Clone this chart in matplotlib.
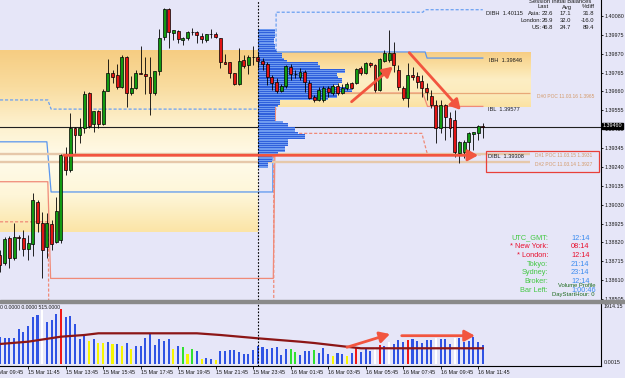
import numpy as np
import matplotlib
matplotlib.use("Agg")
import matplotlib.pyplot as plt
from matplotlib.colors import LinearSegmentedColormap
from matplotlib.patches import Rectangle

plt.rcParams['font.family'] = ['Liberation Sans', 'DejaVu Sans']

# 15 min bars, 15 Mar 10:15 -> 16 Mar 12:00
opens = [1.38750, 1.38705, 1.38845, 1.38733, 1.38850, 1.38845, 1.38783, 1.38811, 1.39045, 1.38928,
         1.38794, 1.38922, 1.38822, 1.38833, 1.39306, 1.39223, 1.39457, 1.39418, 1.39457, 1.39651,
         1.39479, 1.39551, 1.39479, 1.39663, 1.39763, 1.39752, 1.39685, 1.39852, 1.39651, 1.39679,
         1.39763, 1.39757, 1.39740, 1.39651, 1.39774, 1.39963, 1.40119, 1.39985, 1.39996, 1.39946,
         1.39958, 1.39991, 1.39991, 1.39969, 1.39946, 1.39980, 1.39980, 1.39958, 1.39824, 1.39824,
         1.39763, 1.39702, 1.39835, 1.39807, 1.39852, 1.39852, 1.39830, 1.39813, 1.39740, 1.39713,
         1.39663, 1.39690, 1.39796, 1.39757, 1.39740, 1.39768, 1.39707, 1.39629, 1.39612, 1.39612,
         1.39679, 1.39651, 1.39690, 1.39651, 1.39679, 1.39707, 1.39707, 1.39791, 1.39763, 1.39818,
         1.39807, 1.39668, 1.39830, 1.39835, 1.39874, 1.39779, 1.39679, 1.39624, 1.39752, 1.39746,
         1.39718, 1.39679, 1.39635, 1.39585, 1.39457, 1.39585, 1.39512, 1.39501, 1.39318, 1.39323,
         1.39379, 1.39423, 1.39429, 1.39468]
highs = [1.38778, 1.38850, 1.38856, 1.38928, 1.38861, 1.38889, 1.38861, 1.39095, 1.39056, 1.38989,
         1.38984, 1.38945, 1.39073, 1.39312, 1.39351, 1.39540, 1.39462, 1.39512, 1.39663, 1.39657,
         1.39551, 1.39557, 1.39674, 1.39841, 1.39779, 1.39813, 1.39863, 1.39857, 1.39746, 1.39779,
         1.39913, 1.39852, 1.39852, 1.39774, 1.40008, 1.40122, 1.40124, 1.40002, 1.40000, 1.39963,
         1.39996, 1.40013, 1.39994, 1.39985, 1.39980, 1.40008, 1.39991, 1.39960, 1.39868, 1.39826,
         1.39765, 1.39902, 1.39863, 1.39863, 1.39913, 1.39880, 1.39846, 1.39824, 1.39752, 1.39735,
         1.39702, 1.39805, 1.39813, 1.39779, 1.39791, 1.39779, 1.39724, 1.39640, 1.39685, 1.39690,
         1.39690, 1.39702, 1.39707, 1.39702, 1.39713, 1.39713, 1.39791, 1.39802, 1.39824, 1.39824,
         1.39813, 1.39846, 1.39891, 1.40002, 1.39935, 1.39807, 1.39690, 1.39818, 1.39796, 1.39768,
         1.39752, 1.39707, 1.39668, 1.39612, 1.39612, 1.39590, 1.39546, 1.39557, 1.39382, 1.39390,
         1.39432, 1.39437, 1.39472, 1.39485]
lows = [1.38655, 1.38694, 1.38678, 1.38722, 1.38778, 1.38744, 1.38722, 1.38744, 1.38878, 1.38622,
        1.38733, 1.38778, 1.38817, 1.38817, 1.39195, 1.39212, 1.39318, 1.39373, 1.39429, 1.39455,
        1.39434, 1.39457, 1.39473, 1.39660, 1.39707, 1.39674, 1.39679, 1.39574, 1.39640, 1.39674,
        1.39755, 1.39646, 1.39529, 1.39640, 1.39752, 1.39946, 1.39902, 1.39946, 1.39930, 1.39919,
        1.39946, 1.39974, 1.39930, 1.39930, 1.39935, 1.39958, 1.39958, 1.39791, 1.39811, 1.39735,
        1.39696, 1.39696, 1.39791, 1.39757, 1.39807, 1.39791, 1.39779, 1.39696, 1.39668, 1.39651,
        1.39657, 1.39679, 1.39724, 1.39735, 1.39724, 1.39657, 1.39618, 1.39601, 1.39607, 1.39601,
        1.39629, 1.39640, 1.39640, 1.39646, 1.39668, 1.39674, 1.39702, 1.39752, 1.39757, 1.39796,
        1.39657, 1.39663, 1.39824, 1.39824, 1.39768, 1.39668, 1.39612, 1.39574, 1.39724, 1.39679,
        1.39629, 1.39612, 1.39568, 1.39373, 1.39429, 1.39390, 1.39407, 1.39295, 1.39262, 1.39290,
        1.39323, 1.39334, 1.39390, 1.39401]
closes = [1.38694, 1.38839, 1.38733, 1.38850, 1.38845, 1.38783, 1.38817, 1.39056, 1.38928, 1.38778,
          1.38928, 1.38811, 1.38995, 1.39306, 1.39223, 1.39457, 1.39418, 1.39457, 1.39646, 1.39468,
          1.39551, 1.39479, 1.39663, 1.39763, 1.39740, 1.39685, 1.39852, 1.39651, 1.39679, 1.39763,
          1.39757, 1.39746, 1.39651, 1.39774, 1.39958, 1.40119, 1.39991, 1.40002, 1.39952, 1.39958,
          1.39991, 1.39989, 1.39974, 1.39952, 1.39980, 1.39978, 1.39963, 1.39824, 1.39813, 1.39763,
          1.39702, 1.39830, 1.39802, 1.39852, 1.39850, 1.39830, 1.39813, 1.39740, 1.39707, 1.39663,
          1.39690, 1.39802, 1.39757, 1.39755, 1.39768, 1.39713, 1.39624, 1.39612, 1.39668, 1.39679,
          1.39657, 1.39690, 1.39651, 1.39679, 1.39702, 1.39679, 1.39785, 1.39763, 1.39818, 1.39807,
          1.39668, 1.39841, 1.39874, 1.39874, 1.39807, 1.39685, 1.39624, 1.39752, 1.39740, 1.39713,
          1.39679, 1.39657, 1.39585, 1.39457, 1.39585, 1.39518, 1.39457, 1.39323, 1.39379, 1.39379,
          1.39429, 1.39434, 1.39468, 1.39460]

volumes = [857, 816, 816, 816, 1098, 1004, 1192, 1484, 1538, 1695,
           1327, 1381, 1569, 1726, 1484, 1506, 1255, 785, 910, 731,
           785, 659, 659, 700, 628, 628, 565, 659, 471, 565,
           565, 825, 941, 596, 785, 731, 785, 471, 565, 533,
           314, 471, 408, 157, 188, 166, 126, 417, 408, 439,
           439, 386, 314, 314, 439, 565, 543, 471, 502, 533,
           282, 471, 471, 386, 282, 417, 420, 439, 345, 502,
           314, 251, 355, 314, 251, 355, 502, 386, 471, 417,
           543, 596, 565, 700, 628, 753, 700, 753, 785, 731,
           668, 753, 753, 816, 785, 785, 628, 816, 816, 700,
           731, 847, 690, 596]
vol_colors = ("bbbbbbbbb" + "w" + "bbb" + "r" + "bbbbb" + "ybyybybyby" + "bbbbbbbb"
              + "ybgygbybby" + "b" * 15 + "gg" + "bbb" + "g" + "bbb" + "ybbyb" + "r"
              + "bbb" + "wrbw" + "bbb" + "r" + "bbbbb" + "w" + "bbb" + "w" + "bbbbbb")
ma_idx = [0, 6, 13, 18, 21, 42, 47, 55, 64, 67, 75, 77, 103]
ma_vals = [628, 700, 857, 910, 963, 963, 910, 806, 700, 659, 524, 493, 493]

# volume profile of the current day, one row per pip from 1.4000 down
profile_top = 1.4000
profile_vol = [17, 17, 17, 17, 17, 16, 16, 16, 17, 17,
               17, 18, 19, 24, 24, 24, 26, 29, 60, 60,
               62, 62, 87, 87, 79, 79, 80, 84, 84, 84,
               80, 75, 90, 94, 94, 82, 79, 79, 70, 22,
               22, 22, 20, 17, 17, 17, 17, 17, 17, 17,
               17, 25, 30, 30, 37, 37, 37, 40, 47, 47,
               47, 30, 30, 30, 30, 27, 27, 27, 20, 14,
               14, 14, 14, 14, 10, 10, 10]
day_start = 55.04

# initial balance lines (bar index, price)
blue_dash_x = [0, 10.2, 10.9, 58.9, 58.9, 90.2, 90.7, 103]
blue_dash_y = [1.39613, 1.39613, 1.39562, 1.39562, 1.40101, 1.40101, 1.40115, 1.40115]
blue_x = [0, 10.0, 10.9, 58.2, 58.2, 90.7, 91.1, 103]
blue_y = [1.39380, 1.39380, 1.39101, 1.39101, 1.39880, 1.39880, 1.39846, 1.39846]
salmon_x = [0, 10.2, 10.8, 58.3, 58.8, 90.2, 91.2, 103]
salmon_y = [1.39158, 1.39158, 1.38620, 1.38620, 1.39651, 1.39651, 1.39577, 1.39577]
salmon_dash1_x = [0, 10.3, 10.4]
salmon_dash1_y = [1.38935, 1.38935, 1.38400]
salmon_dash2_x = [58.4, 58.4, 90.0, 91.2, 103]
salmon_dash2_y = [1.38400, 1.39427, 1.39427, 1.39308, 1.39308]
poc_levels = [1.39650, 1.39310, 1.39270]
poc_start = [55.04, 0, 0]
poc_end = 113.1
last_price = 1.39460
prev_band = (0, 55.04, 1.38880, 1.39891)
cur_band = (55.04, 113.1, 1.39572, 1.39877)

price_ticks = [1.40080, 1.39975, 1.39870, 1.39765, 1.39660, 1.39555, 1.39450, 1.39345,
               1.39240, 1.39135, 1.39030, 1.38925, 1.38820, 1.38715, 1.38610, 1.38505]
time_idx = [-2, 6, 14, 22, 30, 38, 46, 54, 62, 70, 78, 86, 94, 102]
time_labels = ["15 Mar 09:45", "15 Mar 11:45", "15 Mar 13:45", "15 Mar 15:45", "15 Mar 17:45",
               "15 Mar 19:45", "15 Mar 21:45", "15 Mar 23:45", "16 Mar 01:45", "16 Mar 03:45",
               "16 Mar 05:45", "16 Mar 07:45", "16 Mar 09:45", "16 Mar 11:45"]

sessions = ["Asia:", "London:", "US:"]
ib_last = ["22.6", "26.9", "46.8"]
ib_avg = ["17.1", "32.0", "24.7"]
ib_diff = ["31.8", "-16.0", "89.4"]
clock_names = ["UTC_GMT:", "* New York:", "* London:", "Tokyo:", "Sydney:", "Broker:", "Bar Left:"]
clock_times = ["12:14", "08:14", "12:14", "21:14", "23:14", "12:14", "1:00:46"]

W, H = 625, 378
BAR_PX = 4.6875
P_TOP, P_BOT = 1.40169, 1.38500
BG = '#e6e6f8'

fig = plt.figure(figsize=(W / 100, H / 100), dpi=100, facecolor=BG)


def fx(px):
    return px / W


def fy(py):
    return 1 - py / H


def ftext(px, py, s, **kw):
    kw.setdefault('fontsize', 3.9)
    kw.setdefault('va', 'center')
    kw.setdefault('color', '#1a1a1a')
    fig.text(fx(px), fy(py), s, **kw)


ax = fig.add_axes([0, fy(300), fx(601), 300 / H])
axv = fig.add_axes([0, fy(366), fx(601), 63 / H])
for a in (ax, axv):
    a.set_facecolor(BG)
    for s in ('top', 'left'):
        a.spines[s].set_visible(False)
    a.spines['right'].set_linewidth(0.8)
ax.spines['bottom'].set_visible(False)
axv.spines['bottom'].set_linewidth(0.8)


def band(b, stops):
    cmap = LinearSegmentedColormap.from_list('band', stops)
    grad = np.linspace(0, 1, 256).reshape(-1, 1)
    ax.imshow(grad, cmap=cmap, extent=(b[0], b[1], b[2], b[3]), aspect='auto',
              origin='upper', zorder=0.5, interpolation='bilinear')


band(prev_band, ['#f6cd82', '#f9dc9f', '#fdf0cc', '#fffbea', '#fef6d8', '#fbe4a6'])
band(cur_band, ['#f7cd84', '#fadfa2', '#fdeec4', '#fcebbc', '#fbe2a2'])

# lines
ax.plot(blue_dash_x, blue_dash_y, color='#6aa0f2', lw=0.9, ls=(0, (2.5, 1.5)), zorder=2)
ax.plot(blue_x, blue_y, color='#5a96ee', lw=0.9, zorder=2)
ax.plot(salmon_x, salmon_y, color='#f08a78', lw=0.9, zorder=2)
ax.plot(salmon_dash1_x, salmon_dash1_y, color='#f08a78', lw=0.9, ls=(0, (2.5, 1.5)), zorder=2)
ax.plot(salmon_dash2_x, salmon_dash2_y, color='#f08a78', lw=0.9, ls=(0, (2.5, 1.5)), zorder=2)
ax.hlines(poc_levels[0], poc_start[0], poc_end, color='#e8a878', lw=0.9, zorder=2)
ax.hlines(poc_levels[1:], poc_start[1:], poc_end, color='#e6c8aa', lw=1.7, zorder=2)
ax.axhline(last_price, color='#202020', lw=0.8, zorder=2)

# volume profile
lv = profile_top - 0.0001 * np.arange(len(profile_vol))
pw = np.array(profile_vol) / BAR_PX
ax.barh(lv, pw, left=day_start, height=0.0001, color='#6f9bf0', zorder=3)
ax.barh(lv, pw, left=day_start, height=0.00005, color='#2f60dc', zorder=3)

# candles
o, h, l, c = map(np.array, (opens, highs, lows, closes))
idx = np.arange(len(o))
ax.vlines(idx, l, h, color='black', lw=0.6, zorder=4)
ax.bar(idx, c - o, bottom=o, width=0.62, color=np.where(c >= o, '#129a12', '#e21414'),
       edgecolor='black', lw=0.5, zorder=5)

ax.axvline(day_start, color='black', lw=0.8, ls=(0, (1.5, 1.5)), zorder=6)
axv.axvline(day_start, color='black', lw=0.8, ls=(0, (1.5, 1.5)), zorder=6)


def arrow(a, x0, y0, x1, y1):
    a.annotate('', xy=(x1, y1), xytext=(x0, y0), zorder=7,
               arrowprops=dict(arrowstyle='-|>,head_length=0.6,head_width=0.33',
                               color='#f2553f', lw=2.0, shrinkA=0, shrinkB=0, mutation_scale=10))


arrow(ax, 13.6, 1.39305, 102.0, 1.39305)
arrow(ax, 75.0, 1.39603, 83.8, 1.39798)
arrow(ax, 87.3, 1.39876, 98.3, 1.39557)
ax.add_patch(Rectangle((103.7, 1.39212), 24.1, 0.00117, fill=False, ec='#e8403a', lw=0.9,
                       zorder=7, clip_on=False))

ax.set_xlim(0, 601 / BAR_PX)
ax.set_ylim(P_BOT, P_TOP)
ax.set_xticks([])
ax.yaxis.tick_right()
ax.set_yticks(price_ticks)
ax.set_yticklabels([f'{v:.5f}' for v in price_ticks], fontsize=3.9, color='#1a1a1a')
ax.tick_params(axis='y', length=1.5, pad=1, width=0.6)

# volume panel
vcol = {'b': '#3053e4', 'y': '#f6f600', 'g': '#30e030', 'r': '#f01818', 'w': '#ffffff'}
axv.bar(idx, volumes, width=0.45, color=[vcol[k] for k in vol_colors], zorder=3)
axv.plot(ma_idx, ma_vals, color='#8c1616', lw=1.6, zorder=4)
arrow(axv, 74.0, 524, 83.2, 941)
arrow(axv, 85.7, 888, 101.3, 888)
axv.set_xlim(0, 601 / BAR_PX)
axv.set_ylim(-63, 1914)
axv.set_yticks([])
axv.set_xticks([t for t in time_idx if t >= 0])
axv.tick_params(axis='x', length=2.5, width=0.6, labelbottom=False)

# separator between panels
fig.patches.append(Rectangle((0, fy(303)), 1, 3 / H, transform=fig.transFigure,
                             color='#8a8a8a', zorder=10))

# texts
for t, s in zip(time_idx, time_labels):
    ftext(t * BAR_PX, 372.7, s, ha='left')
ftext(603.5, 306.7, "1914.15")
ftext(603.5, 363, "0.0015")
ftext(602.5, 126, f'{last_price:.5f}', color='white',
      bbox=dict(boxstyle='square,pad=0.15', fc='black', ec='black'))
ftext(0, 307.7, "0 0.0000 0.0000 515.0000", fontsize=3.7)

tab = 4.2
ftext(560, 1.5, "Session Initial Balances", ha='center', fontsize=tab)
ftext(549, 7, "Last", ha='right', fontsize=tab)
ftext(572, 7, "Avg", ha='right', fontsize=tab)
ftext(595, 7, "%diff", ha='right', fontsize=tab)
for k, yy in enumerate([13.9, 20.7, 27.4]):
    ftext(541.5, yy, sessions[k], ha='right', fontsize=tab)
    ftext(553, yy, ib_last[k], ha='right', fontsize=tab)
    ftext(571, yy, ib_avg[k], ha='right', fontsize=tab)
    ftext(594, yy, ib_diff[k], ha='right', fontsize=tab)
ftext(486.5, 13.9, "DIBH  1.40115", fontsize=4.1)

ftext(489, 61, "IBH  1.39846", fontsize=4.1)
ftext(488, 109.3, "IBL  1.39577", fontsize=4.1)
ftext(488.5, 156.8, "DIBL  1.39308", fontsize=4.1)
poc_col = '#d49a6a'
ftext(537, 96.7, "D#0 POC 11.03.16 1.3965", fontsize=3.5, color=poc_col)
ftext(535, 155.6, "D#1 POC 11.03.15 1.3931", fontsize=3.5, color=poc_col)
ftext(535, 165, "D#2 POC 11.03.14 1.3927", fontsize=3.5, color=poc_col)

green, red, blue = '#44c844', '#e8102e', '#3c8cf0'
name_cols = [green, red, red, green, green, green, green]
time_cols = [blue, red, red, blue, blue, blue, blue]
for k, yy in enumerate([238, 246.7, 255.3, 264, 273, 281.7, 290.3]):
    ftext(548, yy, clock_names[k], ha='right', fontsize=5.3, color=name_cols[k])
    ftext(571, yy, clock_times[k], ha='left', fontsize=5.3, color=time_cols[k])
ftext(595, 285.7, "Volume Profile", ha='right', fontsize=4.2, color='#1d6a1d')
ftext(595, 294.7, "DayStartHour: 0", ha='right', fontsize=4.2, color='#1d6a1d')

fig.savefig('out.png', dpi=100, facecolor=BG)
